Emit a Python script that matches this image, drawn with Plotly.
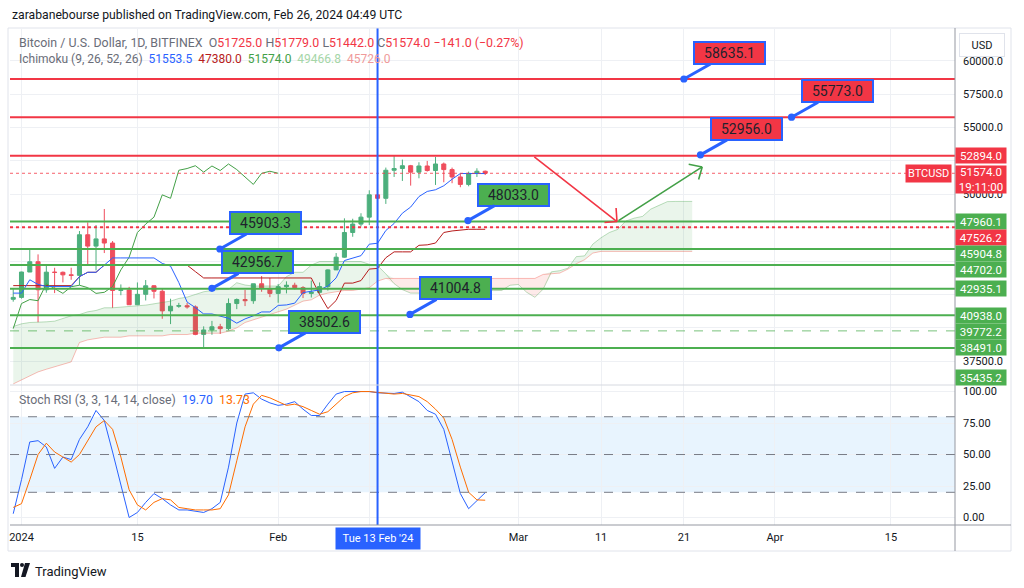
import plotly.graph_objects as go
import pandas as pd

# ---------------- DATA ----------------
candle_dates = pd.date_range("2023-12-31", periods=58, freq="D")
open_ = [42140, 42280, 44180, 44950, 42850, 44170, 44160, 43970, 43930, 46970,
         46120, 46660, 46350, 42800, 42840, 41730, 42510, 43150, 42740, 41270,
         41620, 41660, 41570, 39510, 39840, 40080, 39940, 41820, 42120, 42030,
         43300, 42950, 42580, 43080, 43190, 43010, 42580, 42660, 43090, 44340,
         45290, 47140, 47770, 48290, 49960, 49700, 51800, 51930, 52140, 51660,
         52120, 51780, 52270, 51850, 51300, 50740, 51570, 51725]
high = [42900, 44200, 45900, 45500, 44750, 44500, 44220, 44500, 47250, 47900,
        47700, 48900, 46500, 43250, 43070, 43400, 43580, 43200, 42930, 42180,
        41870, 41870, 41680, 40110, 40520, 40300, 42200, 42200, 42840, 43300,
        43880, 43740, 43280, 43480, 43380, 43120, 43540, 43400, 44380, 45600,
        48200, 48170, 48580, 50300, 50400, 52000, 52880, 52600, 52200, 52400,
        52500, 52800, 52380, 52000, 51550, 51700, 51950, 51779]
low = [41960, 42190, 44180, 40420, 42630, 42600, 43400, 43600, 43200, 44700,
       44300, 45600, 41500, 42440, 41720, 41720, 42050, 42200, 40680, 40280,
       41500, 41440, 39450, 38500, 39480, 39550, 39820, 41400, 41630, 41800,
       42700, 42300, 41880, 42580, 42880, 42230, 42270, 42580, 42790, 44330,
       45250, 46820, 47590, 47700, 48300, 49280, 51300, 51000, 50650, 51200,
       51700, 50700, 50900, 50830, 50530, 50600, 51300, 51442]
close = [42280, 44180, 44950, 42850, 44170, 44150, 43970, 43930, 46970, 46120,
         46660, 46350, 42800, 42840, 41730, 42510, 43150, 42740, 41270, 41620,
         41660, 41570, 39510, 39840, 40080, 39940, 41820, 42120, 42030, 43300,
         42950, 42580, 43080, 43190, 43010, 42580, 42660, 43090, 44340, 45290,
         47140, 47770, 48290, 49960, 49700, 51800, 51930, 52140, 51660, 52120,
         51780, 52270, 51850, 51300, 50740, 51570, 51725, 51574]

tenkan = [42600, 42600, 43600, 43250, 43100, 43100, 43100, 43100, 43835, 44160,
          44160, 44695, 45235, 45235, 45235, 45235, 45235, 45235, 44825, 44625,
          43390, 41930, 41515, 41040, 41040, 40850, 40715, 40350, 40670, 40900,
          41190, 41190, 41680, 41715, 41850, 42640, 42755, 42840, 43130, 43740,
          45040, 45215, 45405, 46265, 46335, 47290, 47815, 48585, 49045, 49830,
          50215, 50340, 50640, 51130, 51555, 51555, 51555, 51553.5]
kijun = [43160, 43160, 43160, 43160, 43160, 43160, 43160, 43160, 43835, 44160,
         44160, 44695, 44695, 44695, 44695, 44695, 44695, 44695, 44695, 44695,
         44695, 44695, 44210, 43735, 43735, 43735, 43735, 43735, 43735, 43735,
         43735, 43735, 43735, 43735, 43735, 43735, 43735, 42500, 41440, 42050,
         43350, 43350, 43540, 44400, 44450, 45250, 45690, 45690, 45690, 46180,
         46215, 46350, 47140, 47255, 47340, 47380, 47380, 47380]
chikou_shift = 25

cloud_dates = pd.date_range("2023-12-31", periods=83, freq="D")
senkou_a = [40100, 40300, 40400, 40400, 40450, 40500, 40700, 40900, 41000, 41200,
            41300, 41500, 41500, 41550, 41600, 41600, 41700, 41800, 41900, 42000,
            42200, 42300, 42500, 42700, 42800, 42880, 42880, 43380, 43205, 43130,
            43130, 43130, 43130, 43835, 44160, 44160, 44695, 44965, 44965, 44965,
            44965, 44965, 44965, 44760, 44660, 44040, 43310, 42860, 42600, 42600,
            42550, 42500, 42450, 42550, 42900, 42950, 42900, 42850, 42790, 42800,
            43190, 43245, 42670, 42285, 42895, 44195, 44280, 44470, 45330, 45390,
            46270, 46750, 47140, 47370, 48005, 48215, 48345, 48890, 49190, 49450,
            49465, 49467, 49466.8]
senkou_b = [35800, 36100, 36400, 36700, 36900, 37100, 37300, 37450, 38900, 39100,
            39200, 39300, 39300, 39300, 39400, 39400, 39400, 39400, 39400, 39500,
            39500, 39500, 39600, 39600, 39600, 39600, 39750, 40000, 40400, 40600,
            40800, 41000, 41200, 41400, 41700, 42000, 42100, 42450, 42600, 42700,
            42800, 42800, 42900, 43000, 43500, 43700, 43700, 43700, 43700, 43700,
            43700, 43700, 43700, 43700, 43700, 43700, 43700, 43700, 43700, 43700,
            43700, 43700, 43700, 43700, 44000, 44050, 44100, 44400, 44800, 45100,
            45600, 45726, 45726, 45726, 45726, 45726, 45726, 45726, 45726, 45726,
            45726, 45726, 45726]

stoch_k = [3, 30, 60, 61, 56, 39, 48, 46, 62, 72, 85, 77, 52, 25, 0, 4, 12, 19, 15, 10,
           6, 6, 5, 4, 7, 12, 40, 75, 98, 99, 94, 91, 89, 90, 92, 86, 81, 81, 90, 98,
           100, 100, 100, 100, 99, 98.5, 98.5, 99.5, 96, 92, 85, 82, 70, 45, 19, 7, 13, 19.7]
stoch_d = [8, 11, 30, 50, 59, 52, 48, 44, 50, 61, 72, 77, 70, 48, 22, 10, 6, 12, 15, 14,
           8, 7, 6, 6, 6, 7, 18, 45, 72, 90, 97, 95, 92, 89, 90, 88, 85, 82, 84, 90,
           96, 99, 100, 100, 99.5, 99, 98, 98.5, 97, 96, 92, 86, 79, 62, 40, 20, 14, 13.73]
stoch_levels = [80, 50, 20]

red_levels = [58635.1, 55773.0, 52894.0]
green_levels = [47960.1, 45904.8, 44702.0, 42935.1, 40938.0, 38491.0]
green_dash_levels = [39772.2]
red_dot_levels = [47526.2]
last_price = 51574.0
offscreen_level = 35435.2

callout_texts = ["45903.3", "42956.7", "38502.6", "41004.8", "48033.0",
                 "58635.1", "55773.0", "52956.0"]
callout_prices = [45903.3, 42956.7, 38502.6, 41004.8, 48033.0,
                  58635.1, 55773.0, 52956.0]
callout_dates = ["2024-01-24 23:00", "2024-01-24 00:00", "2024-02-01 02:00",
                 "2024-02-16 22:00", "2024-02-23 22:00", "2024-03-21 00:00",
                 "2024-04-03 00:00", "2024-03-23 00:00"]
callout_kinds = ["g", "g", "g", "g", "g", "r", "r", "r"]

arrow_dates = ["2024-03-02 18:00", "2024-03-12 22:00", "2024-03-23 05:00"]
arrow_prices = [52894.0, 47960.1, 52050.0]

xtick_dates = ["2024-01-01", "2024-01-15", "2024-02-01", "2024-02-12", "2024-03-01",
               "2024-03-11", "2024-03-21", "2024-04-01", "2024-04-15"]
xtick_text = ["2024", "15", "Feb", "", "Mar", "11", "21", "Apr", "15"]
price_ticks = [35000, 37500, 40000, 42500, 45000, 47500, 50000, 52500, 55000, 57500, 60000]
# tick labels that are fully covered by the coloured price tags are left blank
price_tick_text = ["", "37500.0", "", "", "", "", "50000.0", "", "55000.0", "57500.0", "60000.0"]
stoch_ticks = [0, 25, 50, 75, 100]
cursor_date = "2024-02-13"

# ---------------- LAYOUT GEOMETRY ----------------
W, H = 1024, 588
L, R, T, B = 10, 955, 29, 525
PANE_SPLIT = 385
FONT = "Roboto"
TXT = "#131722"
GRID = "#eef0f4"
RED = "#F23645"
GREEN = "#4CAF50"
BLUE = "#2962FF"
price_range = [35720, 62378]
stoch_range = [-5.95, 105.2]


def pxx(x):
    return (x - L) / (R - L)


def pxy(y):
    return (B - y) / (B - T)


split = pxy(PANE_SPLIT)
x_left = pd.Timestamp("2024-01-01") - pd.Timedelta(days=1.389)
x_right = pd.Timestamp("2024-01-01") + pd.Timedelta(days=112.74)

fig = go.Figure()

# ---- Ichimoku cloud ----
upper = [max(a, b) for a, b in zip(senkou_a, senkou_b)]
lower = [min(a, b) for a, b in zip(senkou_a, senkou_b)]
fig.add_trace(go.Scatter(x=cloud_dates, y=senkou_b, mode="lines", line=dict(width=0),
                         showlegend=False, hoverinfo="skip"))
fig.add_trace(go.Scatter(x=cloud_dates, y=upper, mode="lines", line=dict(width=0),
                         fill="tonexty", fillcolor="rgba(67,160,71,0.11)",
                         showlegend=False, hoverinfo="skip"))
fig.add_trace(go.Scatter(x=cloud_dates, y=senkou_b, mode="lines", line=dict(width=0),
                         showlegend=False, hoverinfo="skip"))
fig.add_trace(go.Scatter(x=cloud_dates, y=lower, mode="lines", line=dict(width=0),
                         fill="tonexty", fillcolor="rgba(244,67,54,0.11)",
                         showlegend=False, hoverinfo="skip"))
fig.add_trace(go.Scatter(x=cloud_dates, y=senkou_a, mode="lines",
                         line=dict(color="rgba(67,160,71,0.35)", width=1),
                         showlegend=False, hoverinfo="skip"))
fig.add_trace(go.Scatter(x=cloud_dates, y=senkou_b, mode="lines",
                         line=dict(color="rgba(244,67,54,0.35)", width=1),
                         showlegend=False, hoverinfo="skip"))

# ---- Ichimoku lines ----
fig.add_trace(go.Scatter(x=candle_dates, y=kijun, mode="lines",
                         line=dict(color="#B71C1C", width=1), showlegend=False))
fig.add_trace(go.Scatter(x=candle_dates[:-chikou_shift], y=close[chikou_shift:], mode="lines",
                         line=dict(color="#43A047", width=1), showlegend=False))

# ---- candles ----
fig.add_trace(go.Candlestick(
    x=candle_dates, open=open_, high=high, low=low, close=close,
    increasing=dict(line=dict(color="#4CAF7D", width=1), fillcolor="#4CAF7D"),
    decreasing=dict(line=dict(color="#EF4D5D", width=1), fillcolor="#EF4D5D"),
    whiskerwidth=0, showlegend=False))

fig.add_trace(go.Scatter(x=candle_dates, y=tenkan, mode="lines",
                         line=dict(color=BLUE, width=1), showlegend=False))

# ---- stoch rsi ----
fig.add_trace(go.Scatter(x=candle_dates, y=stoch_k, mode="lines", yaxis="y2",
                         line=dict(color=BLUE, width=1), showlegend=False))
fig.add_trace(go.Scatter(x=candle_dates, y=stoch_d, mode="lines", yaxis="y2",
                         line=dict(color="#FF6D00", width=1), showlegend=False))

shapes = []
annotations = []

# stoch band & levels
shapes.append(dict(type="rect", xref="paper", yref="y2", x0=0, x1=1,
                   y0=stoch_levels[2], y1=stoch_levels[0],
                   fillcolor="rgba(33,150,243,0.10)", line=dict(width=0), layer="below"))
for lv in stoch_levels:
    shapes.append(dict(type="line", xref="paper", yref="y2", x0=0, x1=1, y0=lv, y1=lv,
                       line=dict(color="#787B86", width=1, dash="dash")))

# horizontal price lines
for lv in red_levels:
    shapes.append(dict(type="line", xref="paper", yref="y", x0=0, x1=1, y0=lv, y1=lv,
                       line=dict(color=RED, width=2)))
for lv in green_levels:
    shapes.append(dict(type="line", xref="paper", yref="y", x0=0, x1=1, y0=lv, y1=lv,
                       line=dict(color=GREEN, width=2)))
for lv in green_dash_levels:
    shapes.append(dict(type="line", xref="paper", yref="y", x0=0, x1=1, y0=lv, y1=lv,
                       line=dict(color="rgba(76,175,80,0.75)", width=1, dash="dash")))
for lv in red_dot_levels:
    shapes.append(dict(type="line", xref="paper", yref="y", x0=0, x1=1, y0=lv, y1=lv,
                       line=dict(color=RED, width=2, dash="dot")))
shapes.append(dict(type="line", xref="paper", yref="y", x0=0, x1=1, y0=last_price, y1=last_price,
                   line=dict(color="rgba(242,54,69,0.8)", width=1, dash="dot")))

# crosshair
shapes.append(dict(type="line", xref="x", yref="paper", x0=cursor_date, x1=cursor_date,
                   y0=0, y1=pxy(28), line=dict(color=BLUE, width=2)))

# frame / separators
shapes.append(dict(type="rect", xref="paper", yref="paper", x0=pxx(8), x1=pxx(1011),
                   y0=pxy(551), y1=pxy(28), line=dict(color="#e0e3eb", width=1)))
shapes.append(dict(type="line", xref="paper", yref="paper", x0=0, x1=1,
                   y0=split, y1=split, line=dict(color="#d6d9e0", width=1)))
shapes.append(dict(type="line", xref="paper", yref="paper", x0=0, x1=pxx(1011),
                   y0=0, y1=0, line=dict(color="#9598a1", width=1)))
shapes.append(dict(type="line", xref="paper", yref="paper", x0=1, x1=1,
                   y0=pxy(551), y1=pxy(28), line=dict(color="#9598a1", width=1)))

# arrows
red_arrow_color = "#F23645"
green_arrow_color = "#43A047"
annotations.append(dict(x=arrow_dates[1], y=arrow_prices[1], ax=arrow_dates[0], ay=arrow_prices[0],
                        xref="x", yref="y", axref="x", ayref="y", showarrow=True, arrowhead=0,
                        arrowwidth=1.6, arrowcolor=red_arrow_color, text="", standoff=0))
for dx, dy in [(-14, 1), (-1, -15)]:
    annotations.append(dict(x=arrow_dates[1], y=arrow_prices[1], ax=dx, ay=dy, xref="x", yref="y",
                            showarrow=True, arrowhead=0, arrowwidth=1.6,
                            arrowcolor=red_arrow_color, text="", standoff=0))
annotations.append(dict(x=arrow_dates[2], y=arrow_prices[2], ax=arrow_dates[1], ay=arrow_prices[1],
                        xref="x", yref="y", axref="x", ayref="y", showarrow=True, arrowhead=0,
                        arrowwidth=1.6, arrowcolor=green_arrow_color, text="", standoff=0))
for dx, dy in [(-15, -3), (-4, 14)]:
    annotations.append(dict(x=arrow_dates[2], y=arrow_prices[2], ax=dx, ay=dy, xref="x", yref="y",
                            showarrow=True, arrowhead=0, arrowwidth=1.6,
                            arrowcolor=green_arrow_color, text="", standoff=0))

# callouts
for txt, d, p, k in zip(callout_texts, callout_dates, callout_prices, callout_kinds):
    annotations.append(dict(
        x=d, y=p, xref="x", yref="y", text=txt, showarrow=True,
        ax=46, ay=-26, arrowhead=6, arrowsize=0.6, arrowwidth=3, arrowcolor=BLUE,
        standoff=0, bgcolor=GREEN if k == "g" else RED, bordercolor=BLUE, borderwidth=2,
        borderpad=1, width=67, height=18, xanchor="center", yanchor="middle",
        font=dict(family=FONT, size=14, color="#1e222d")))


# right axis price labels with stacking
def price_px(p):
    return T + (price_range[1] - p) / (price_range[1] - price_range[0]) * (PANE_SPLIT - T)


axis_labels = ([(v, GREEN) for v in green_levels] + [(v, GREEN) for v in green_dash_levels]
               + [(v, RED) for v in red_dot_levels] + [(offscreen_level, GREEN)])
axis_labels.sort(key=lambda t: -t[0])
prev = -1e9
for v, col in axis_labels:
    nat = price_px(v)
    pos = max(nat, prev + 16)
    pos = min(pos, PANE_SPLIT - 8)
    prev = pos
    annotations.append(dict(x=1, y=pxy(pos), xref="paper", yref="paper", xanchor="left",
                            yanchor="middle", text=f"{v:.1f}", showarrow=False,
                            bgcolor=col, font=dict(family=FONT, size=11.5, color="white"),
                            width=48, height=13, borderpad=1))
for v in red_levels[2:]:
    annotations.append(dict(x=1, y=v, xref="paper", yref="y", xanchor="left", yanchor="middle",
                            text=f"{v:.1f}", showarrow=False, bgcolor=RED,
                            font=dict(family=FONT, size=11.5, color="white"),
                            width=48, height=13, borderpad=1))
annotations.append(dict(x=1, y=last_price, xref="paper", yref="y", xanchor="left", yanchor="top",
                        yshift=8, text=f"{last_price:.1f}<br>19:11:00", showarrow=False,
                        bgcolor=RED, font=dict(family=FONT, size=11.5, color="white"),
                        width=48, height=25, borderpad=1))
annotations.append(dict(x=1, y=last_price, xref="paper", yref="y", xanchor="right",
                        yanchor="middle", xshift=-3, text="BTCUSD", showarrow=False,
                        bgcolor=RED, font=dict(family=FONT, size=11, color="white"),
                        borderpad=2))

# USD button
annotations.append(dict(x=pxx(981.5), y=pxy(45), xref="paper", yref="paper", text="USD",
                        xanchor="center", yanchor="middle",
                        showarrow=False, bgcolor="white", bordercolor="#e0e3eb", borderwidth=1,
                        width=42, height=20, font=dict(family=FONT, size=11, color=TXT)))

# crosshair date label
annotations.append(dict(x=cursor_date, y=pxy(538), xref="x", yref="paper", text="Tue 13 Feb '24",
                        xanchor="center", yanchor="middle",
                        showarrow=False, bgcolor=BLUE, width=80, height=17, borderpad=2,
                        font=dict(family=FONT, size=11, color="white")))

# title & legends
annotations.append(dict(x=0, y=pxy(15), xref="paper", yref="paper", xanchor="left",
                        yanchor="middle", showarrow=False,
                        text="zarabanebourse published on TradingView.com, Feb 26, 2024 04:49 UTC",
                        font=dict(family=FONT, size=12.2, color=TXT)))
g = "#6a6d78"
r_ = "#F23645"
leg1 = (f"<span style='color:{g}'>Bitcoin / U.S. Dollar, 1D, BITFINEX</span>  "
        f"<span style='color:{g}'>O</span><span style='color:{r_}'>51725.0</span> "
        f"<span style='color:{g}'>H</span><span style='color:{r_}'>51779.0</span> "
        f"<span style='color:{g}'>L</span><span style='color:{r_}'>51442.0</span> "
        f"<span style='color:{g}'>C</span><span style='color:{r_}'>51574.0</span> "
        f"<span style='color:{r_}'>−141.0 (−0.27%)</span>")
leg2 = (f"<span style='color:{g}'>Ichimoku (9, 26, 52, 26)</span>  "
        f"<span style='color:{BLUE}'>51553.5</span>  "
        f"<span style='color:#B71C1C'>47380.0</span>  "
        f"<span style='color:#43A047'>51574.0</span>  "
        f"<span style='color:#A5D6A7'>49466.8</span>  "
        f"<span style='color:#EF9A9A'>45726.0</span>")
leg3 = (f"<span style='color:{g}'>Stoch RSI (3, 3, 14, 14, close)</span>  "
        f"<span style='color:{BLUE}'>19.70</span>  "
        f"<span style='color:#FF6D00'>13.73</span>")
for txt, yy, fs in [(leg1, 42, 12.4), (leg2, 59, 12), (leg3, 400, 12.3)]:
    annotations.append(dict(x=pxx(17), y=pxy(yy), xref="paper", yref="paper", xanchor="left",
                            yanchor="middle", showarrow=False, text=txt,
                            font=dict(family=FONT, size=fs, color=g)))

# TradingView logo
annotations.append(dict(x=pxx(33), y=pxy(571), xref="paper", yref="paper", xanchor="left",
                        yanchor="middle", showarrow=False, text="TradingView",
                        font=dict(family=FONT, size=13, color=TXT)))
shapes.append(dict(type="rect", xref="paper", yref="paper", x0=pxx(11), x1=pxx(19),
                   y0=pxy(567), y1=pxy(563), fillcolor=TXT, line=dict(width=0)))
shapes.append(dict(type="rect", xref="paper", yref="paper", x0=pxx(15), x1=pxx(19),
                   y0=pxy(577), y1=pxy(563), fillcolor=TXT, line=dict(width=0)))
shapes.append(dict(type="circle", xref="paper", yref="paper", x0=pxx(20), x1=pxx(24),
                   y0=pxy(567), y1=pxy(563), fillcolor=TXT, line=dict(width=0)))
shapes.append(dict(type="path", xref="paper", yref="paper",
                   path=f"M {pxx(25)} {pxy(563)} L {pxx(30)} {pxy(563)} L {pxx(25.5)} {pxy(577)} "
                        f"L {pxx(21)} {pxy(577)} Z",
                   fillcolor=TXT, line=dict(width=0)))

fig.update_layout(
    width=W, height=H,
    margin=dict(l=L, r=W - R, t=T, b=H - B),
    paper_bgcolor="white", plot_bgcolor="white",
    showlegend=False, hovermode=False,
    font=dict(family=FONT, size=11, color=TXT),
    xaxis=dict(type="date", range=[x_left, x_right], anchor="y2",
               tickvals=xtick_dates, ticktext=xtick_text, showgrid=True, gridcolor=GRID,
               zeroline=False, showline=False, ticks="", ticklabelstandoff=4,
               tickfont=dict(family=FONT, size=11, color=TXT),
               rangeslider=dict(visible=False), fixedrange=True),
    yaxis=dict(domain=[split, 1], range=price_range, side="right", anchor="x",
               tickvals=price_ticks, ticktext=price_tick_text,
               showgrid=True, gridcolor=GRID, zeroline=False, showline=False, ticks="",
               ticklabelstandoff=7, tickfont=dict(family=FONT, size=11, color=TXT),
               fixedrange=True),
    yaxis2=dict(domain=[0, split], range=stoch_range, side="right", anchor="x",
                tickvals=stoch_ticks, ticktext=[f"{v:.2f}" for v in stoch_ticks],
                showgrid=True, gridcolor=GRID, zeroline=False, showline=False, ticks="",
                ticklabelstandoff=7, tickfont=dict(family=FONT, size=11, color=TXT),
                fixedrange=True),
    shapes=shapes, annotations=annotations,
)

fig.write_html("out.html", config=dict(displayModeBar=False))
